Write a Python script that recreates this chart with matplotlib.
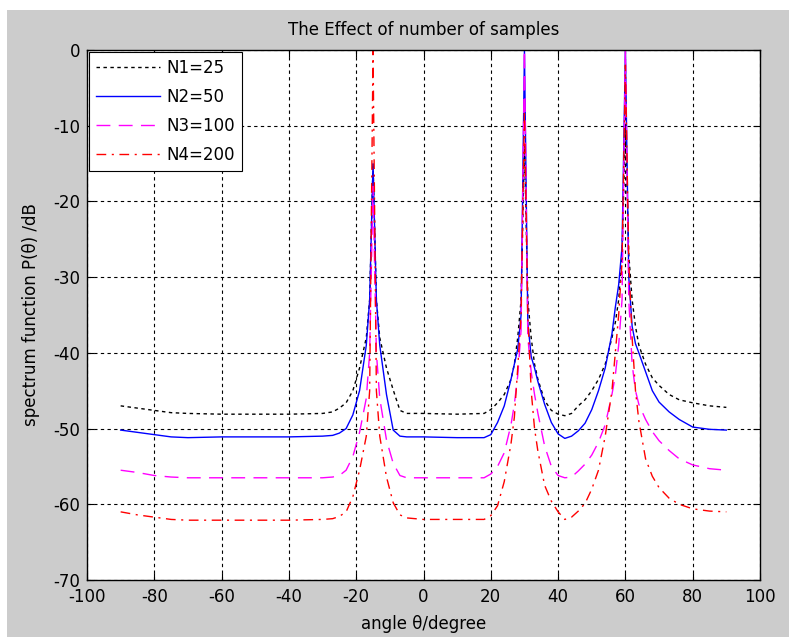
import matplotlib.pyplot as plt
from matplotlib.patches import Rectangle

plt.rcParams['font.family'] = ['DejaVu Sans']
plt.rcParams['axes.unicode_minus'] = False

# angle grid (degrees) and spectrum values (dB)
angles = [-90, -85, -80, -75, -70, -60, -50, -40, -30, -27, -25, -23, -21, -19,
          -17, -16, -15, -14, -13, -11, -9, -7, -5, 0, 10, 18, 20, 22, 24, 26,
          27, 28, 29, 30, 31, 32, 33, 34, 36, 38, 40, 42, 44, 46, 48, 50, 52,
          54, 56, 57, 58, 59, 60, 61, 62, 63, 64, 66, 68, 70, 73, 76, 80, 85, 90]

n1 = [-47.0, -47.3, -47.6, -47.9, -48.0, -48.1, -48.1, -48.1, -48.0, -47.8, -47.3, -46.6, -45.0, -42.0,
      -38.0, -33.0, -15.0, -33.0, -38.0, -42.0, -44.9, -47.6, -48.0, -48.0, -48.1, -48.0, -47.5, -46.6, -45.5, -43.5,
      -41.5, -38.0, -33.0, -12.5, -33.0, -38.0, -41.5, -43.5, -46.3, -47.6, -48.1, -48.3, -48.0, -47.0, -46.2, -45.0, -43.5,
      -41.5, -38.0, -36.0, -33.0, -27.0, -10.0, -27.0, -33.0, -36.5, -39.0, -41.5, -43.3, -44.3, -45.5, -46.2, -46.6, -47.0, -47.2]

n2 = [-50.2, -50.5, -50.8, -51.1, -51.2, -51.1, -51.1, -51.1, -51.0, -50.9, -50.6, -50.0, -48.2, -45.0,
      -39.0, -33.0, -15.0, -33.0, -39.0, -45.5, -50.2, -51.0, -51.1, -51.1, -51.2, -51.2, -50.8, -49.2, -47.0, -43.5,
      -41.5, -39.5, -35.0, 0.0, -36.0, -40.5, -42.0, -43.8, -46.8, -49.2, -50.7, -51.3, -51.0, -50.3, -49.3, -47.5, -45.0,
      -42.0, -37.5, -34.0, -31.0, -26.0, 0.0, -30.0, -36.5, -38.8, -40.0, -42.5, -45.0, -46.5, -47.8, -48.8, -49.8, -50.1, -50.2]

n3 = [-55.5, -55.8, -56.2, -56.4, -56.5, -56.5, -56.5, -56.5, -56.5, -56.4, -56.2, -55.5, -53.7, -50.5,
      -46.0, -40.0, -18.0, -40.0, -46.0, -51.5, -54.6, -56.2, -56.5, -56.5, -56.5, -56.5, -56.0, -55.0, -53.2, -49.5,
      -46.8, -43.0, -37.0, 0.0, -38.0, -42.5, -45.5, -48.0, -52.3, -55.0, -56.2, -56.5, -56.4, -55.6, -54.7, -53.5, -51.8,
      -49.5, -45.5, -43.0, -39.0, -33.0, 0.0, -33.0, -41.5, -45.0, -46.8, -48.8, -50.4, -51.6, -52.9, -54.0, -54.8, -55.3, -55.5]

n4 = [-61.0, -61.4, -61.7, -62.0, -62.1, -62.1, -62.1, -62.1, -62.0, -61.9, -61.6, -61.0, -59.0, -55.5,
      -51.0, -45.0, 0.0, -45.0, -51.0, -56.4, -59.8, -61.4, -61.8, -62.0, -62.0, -62.0, -61.5, -60.2, -57.0, -52.0,
      -48.5, -42.0, -35.0, -8.0, -35.0, -45.0, -50.0, -53.0, -57.5, -59.6, -61.0, -62.0, -61.7, -60.9, -59.9, -58.0, -55.5,
      -51.0, -45.0, -40.0, -35.0, -28.0, -2.0, -28.0, -38.0, -45.0, -49.0, -54.0, -56.3, -57.8, -59.2, -60.0, -60.6, -60.9, -61.0]

labels = ['N1=25', 'N2=50', 'N3=100', 'N4=200']

fig = plt.figure(figsize=(7.89, 6.37), dpi=100)
fig.patch.set_facecolor('white')
# grey figure area below a thin white strip
fig.patches.append(Rectangle((7 / 789, 0), 1, 1 - 10 / 637, transform=fig.transFigure,
                             facecolor='#cccccc', edgecolor='none', zorder=-1))

ax = fig.add_axes([87 / 789, 1 - 580 / 637, 673 / 789, 530 / 637])
ax.plot(angles, n1, color='black', linestyle=(0, (2.5, 2.5)), lw=1.0, label=labels[0])
ax.plot(angles, n2, color='#0000ff', linestyle='-', lw=1.0, label=labels[1])
ax.plot(angles, n3, color='#ff00ff', linestyle=(0, (10, 6)), lw=1.0, label=labels[2])
ax.plot(angles, n4, color='#ff0000', linestyle=(0, (7, 4, 1.5, 4)), lw=1.0, label=labels[3])

ax.set_xlim(-100, 100)
ax.set_ylim(-70, 0)
ax.set_xticks(range(-100, 101, 20))
ax.set_yticks(range(-70, 1, 10))
ax.grid(True, color='black', linestyle=(0, (3, 3)), lw=0.8)
ax.tick_params(direction='in', top=True, right=True, length=5, labelsize=12)
ax.tick_params(axis='x', pad=6)
ax.tick_params(axis='y', pad=5)
for s in ax.spines.values():
    s.set_linewidth(1.0)

ax.set_title('The Effect of number of samples', fontsize=12, pad=11)
ax.set_xlabel('angle θ/degree', fontsize=12)
ax.set_ylabel('spectrum function P(θ) /dB', fontsize=12)
ax.xaxis.set_label_coords(0.5, -0.066)
ax.yaxis.set_label_coords(-0.07, 0.5)

leg = ax.legend(loc='upper left', bbox_to_anchor=(0, 1), borderaxespad=0.1, fontsize=12,
                fancybox=False, framealpha=1, edgecolor='black', handlelength=3.8,
                handletextpad=0.4, labelspacing=0.65, borderpad=0.45)
leg.get_frame().set_linewidth(0.8)

fig.savefig('out.png', dpi=100)
